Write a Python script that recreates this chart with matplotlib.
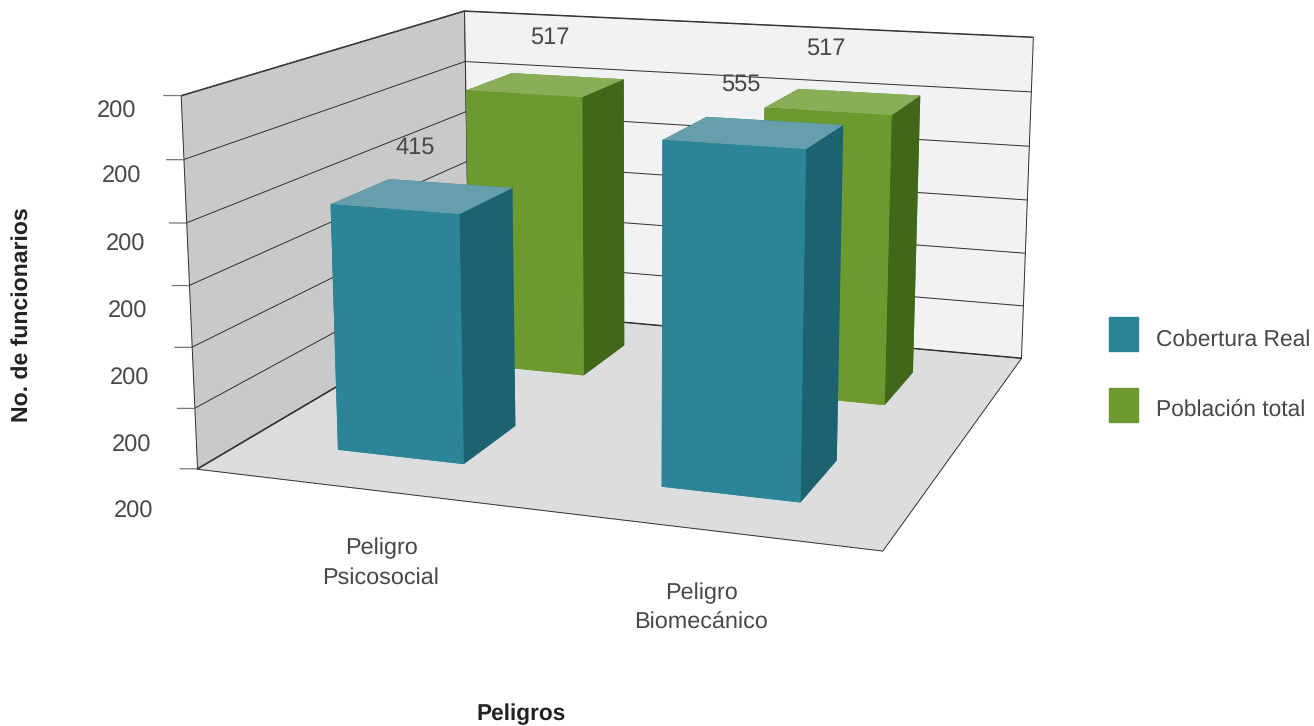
import numpy as np
import matplotlib
matplotlib.use('Agg')
import matplotlib.pyplot as plt
from matplotlib.patches import Patch
from mpl_toolkits.mplot3d import proj3d
from mpl_toolkits.mplot3d.art3d import Poly3DCollection

W, H = 1314, 726

categories = ['Peligro\nPsicosocial', 'Peligro\nBiomecánico']
series_names = ['Cobertura Real', 'Población total']
cobertura = [415, 555]
poblacion = [517, 517]
z_ticks = [0, 101.5, 203, 304.5, 406, 507.5, 609]
z_tick_labels = ['200', '200', '200', '200', '200', '200', '200']

# bottom, top, front, back, left, right
teal = ['#2c8596', '#679eac', '#2c8596', '#2c8596', '#1c6270', '#1c6270']
green = ['#6c9a2f', '#8aae58', '#6c9a2f', '#6c9a2f', '#41681a', '#41681a']
text_col = '#484848'
grid_col = '#2e2e2e'

plt.rcParams['font.family'] = ['Liberation Sans', 'DejaVu Sans']
plt.rcParams['text.hinting'] = 'no_hinting'

fig = plt.figure(figsize=(W / 100, H / 100), dpi=100)
ax = fig.add_axes([151.4 / W, (H - 729.1) / H, 953.7 / W, 953.7 / H], projection='3d')
ax.computed_zorder = False
ax.view_init(elev=12.82, azim=-70.59, roll=0)
ax.set_proj_type('persp', focal_length=0.4568)
ax.set_box_aspect((5.206, 5.049, 2.8))
ax.set_axis_off()

x0, x1 = -0.5, 1.5
y0, y1 = -0.5, 1.5
z0, z1 = z_ticks[0], z_ticks[-1]

# walls and floor
walls = [
    ([(x0, y0, z0), (x0, y1, z0), (x0, y1, z1), (x0, y0, z1)], '#c8c9cb'),
    ([(x0, y1, z0), (x1, y1, z0), (x1, y1, z1), (x0, y1, z1)], '#f1f2f4'),
    ([(x0, y0, z0), (x1, y0, z0), (x1, y1, z0), (x0, y1, z0)], '#dcddde'),
]
for verts, col in walls:
    ax.add_collection3d(Poly3DCollection([verts], facecolors=col, edgecolors=grid_col, linewidths=0.7, zorder=1))

for z in z_ticks:
    ax.plot([x0, x0], [y0, y1], [z, z], color=grid_col, lw=0.7, zorder=2)
    ax.plot([x0, x1], [y1, y1], [z, z], color=grid_col, lw=0.7, zorder=2)

# bars, back row first so the front row covers it
width = 0.4
for row, (vals, cols) in enumerate([(poblacion, green), (cobertura, teal)]):
    y = 1 - row
    for i, v in enumerate(vals):
        ax.bar3d(i - width / 2, y - width / 2, 0, width, width, v, color=cols, shade=False,
                 zorder=3 + row + i * 0.1, edgecolor='none')

ax.set_xlim(x0, x1)
ax.set_ylim(y0, y1)
ax.set_zlim(z0, z1)
M = ax.get_proj()


def to2d(x, y, z):
    px, py, _ = proj3d.proj_transform(x, y, z, M)
    return px, py


# tick stubs
for z in z_ticks:
    ax.annotate('', xy=to2d(x0, y0, z), xytext=(-17, 0), textcoords='offset pixels',
                arrowprops=dict(arrowstyle='-', color='#777777', lw=0.9, shrinkA=0, shrinkB=0))

# value labels sit a little above each bar top
label_nudges = [(-8, 48), (-14, 48), (4, 47), (-18, 53)]
label_vals = [(0, 0, cobertura[0]), (1, 0, cobertura[1]), (0, 1, poblacion[0]), (1, 1, poblacion[1])]
for (i, y, v), nudge in zip(label_vals, label_nudges):
    ax.annotate(str(v), xy=to2d(i, y, v), xytext=nudge, textcoords='offset pixels',
                ha='center', va='center', fontsize=17, color=text_col)


def fig_text(px, py, s, **kw):
    fig.text(px / W, 1 - py / H, s, ha='center', va='center', color=kw.pop('color', text_col), **kw)


tick_x = [134, 132, 130, 128, 126, 122, 117]
tick_y = [512, 446, 379, 312, 245, 177, 112]
for px, py, s in zip(tick_x, tick_y, z_tick_labels):
    fig_text(px, py, s, fontsize=17)

fig_text(381, 563, categories[0], fontsize=16.8, linespacing=1.45)
fig_text(701, 608, categories[1], fontsize=16.8, linespacing=1.45)
fig_text(521, 714, 'Peligros', fontsize=16.3, fontweight='bold', color='#222222')
fig_text(22, 315, 'No. de funcionarios', fontsize=16.6, fontweight='bold', color='#222222', rotation=90)

handles = [Patch(color=teal[0], label=series_names[0]), Patch(color=green[0], label=series_names[1])]
leg = fig.legend(handles=handles, loc='upper left', bbox_to_anchor=(1109 / W, 1 - 317 / H), frameon=False,
                 borderpad=0, borderaxespad=0, fontsize=16.4, labelcolor=text_col, handlelength=1.28,
                 handleheight=1.92, handletextpad=0.79, labelspacing=1.62)
# legend text sits a bit below the middle of the swatch
for t in leg.get_texts():
    t.set_position((0, -5))

fig.savefig('out.png', dpi=100)
